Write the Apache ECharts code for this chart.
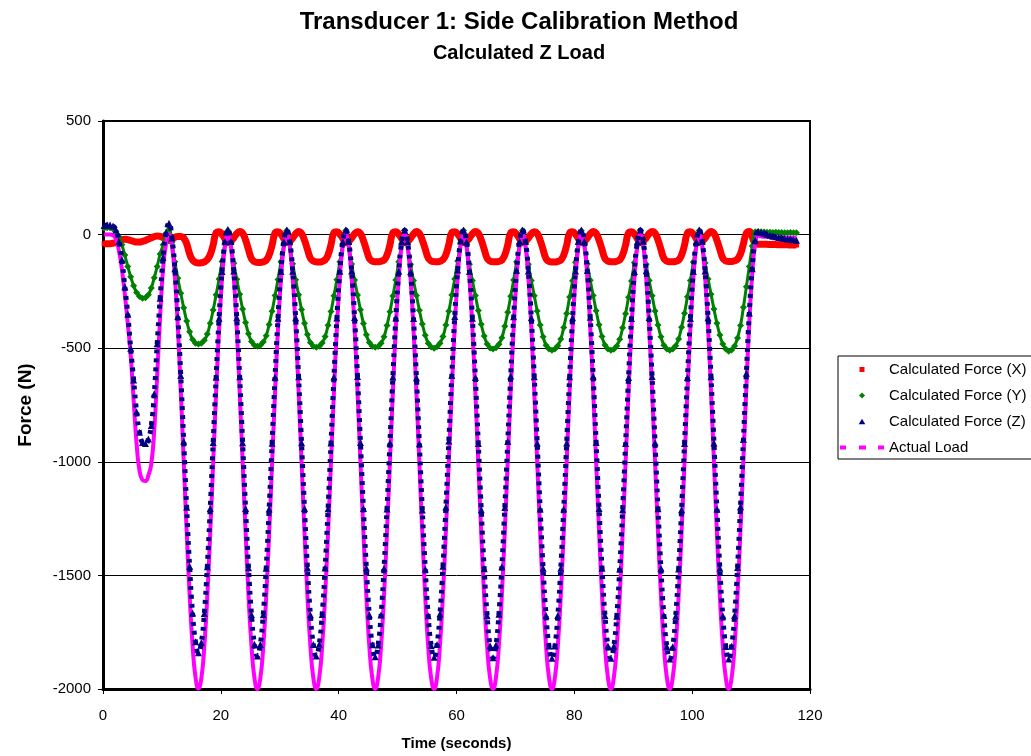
<!DOCTYPE html>
<html><head><meta charset="utf-8">
<script src="https://cdn.jsdelivr.net/npm/echarts@6/dist/echarts.min.js"></script>
<style>html,body{margin:0;padding:0;background:#fff}#c{width:1031px;height:756px}</style>
</head><body><div id="c"></div>
<script>
// sample times (s)
const time = [
0.2,0.7,1.2,1.7,2.2,2.7,3.2,3.7,4.2,4.7,5.2,5.7,6.2,6.7,7.2,7.7,8.2,8.7,9.2,9.7,10.2,10.7,
11.2,11.7,12.2,12.7,13.2,13.7,14.2,14.7,15.2,15.7,16.2,16.7,17.2,17.7,18.2,18.7,19.2,19.7,20.2,20.7,
21.2,21.7,22.2,22.7,23.2,23.7,24.2,24.7,25.2,25.7,26.2,26.7,27.2,27.7,28.2,28.7,29.2,29.7,30.2,30.7,
31.2,31.7,32.2,32.7,33.2,33.7,34.2,34.7,35.2,35.7,36.2,36.7,37.2,37.7,38.2,38.7,39.2,39.7,40.2,40.7,
41.2,41.7,42.2,42.7,43.2,43.7,44.2,44.7,45.2,45.7,46.2,46.7,47.2,47.7,48.2,48.7,49.2,49.7,50.2,50.7,
51.2,51.7,52.2,52.7,53.2,53.7,54.2,54.7,55.2,55.7,56.2,56.7,57.2,57.7,58.2,58.7,59.2,59.7,60.2,60.7,
61.2,61.7,62.2,62.7,63.2,63.7,64.2,64.7,65.2,65.7,66.2,66.7,67.2,67.7,68.2,68.7,69.2,69.7,70.2,70.7,
71.2,71.7,72.2,72.7,73.2,73.7,74.2,74.7,75.2,75.7,76.2,76.7,77.2,77.7,78.2,78.7,79.2,79.7,80.2,80.7,
81.2,81.7,82.2,82.7,83.2,83.7,84.2,84.7,85.2,85.7,86.2,86.7,87.2,87.7,88.2,88.7,89.2,89.7,90.2,90.7,
91.2,91.7,92.2,92.7,93.2,93.7,94.2,94.7,95.2,95.7,96.2,96.7,97.2,97.7,98.2,98.7,99.2,99.7,100.2,100.7,
101.2,101.7,102.2,102.7,103.2,103.7,104.2,104.7,105.2,105.7,106.2,106.7,107.2,107.7,108.2,108.7,109.2,109.7,110.2,110.7,
111.2,111.7,112.2,112.7,113.2,113.7,114.2,114.7,115.2,115.7,116.2,116.7,117.2,117.7
];
// Calculated Force (X) [N]
const forceX = [
-40,-40,-40,-38,-35,-28,-22,-20,-22,-26,-30,-33,-33,-30,-26,-20,-14,-9,-6,-8,-14,-22,
-26,-20,-12,-8,-8,-15,-40,-85,-112,-122,-125,-124,-120,-110,-88,-45,8,13,2,-18,
-35,-28,-14,4,14,6,-24,-66,-106,-119,-123,-123,-120,-113,-90,-46,7,13,3,-18,
-34,-29,-15,3,14,5,-25,-65,-104,-116,-120,-121,-118,-111,-89,-44,8,12,2,-17,
-36,-30,-15,3,13,5,-26,-66,-105,-117,-120,-120,-117,-112,-90,-45,8,13,2,-18,
-35,-30,-16,2,14,5,-25,-64,-103,-116,-119,-120,-117,-110,-88,-43,9,13,3,-17,
-35,-29,-15,3,14,6,-24,-64,-104,-117,-120,-120,-118,-112,-90,-45,8,12,2,-18,
-36,-30,-15,3,13,5,-25,-66,-106,-118,-121,-121,-118,-112,-90,-46,7,12,2,-18,
-35,-30,-15,3,14,5,-25,-65,-105,-117,-120,-120,-117,-111,-89,-45,8,13,2,-18,
-35,-29,-14,4,14,6,-24,-65,-105,-117,-120,-120,-118,-112,-90,-46,7,12,2,-18,
-35,-30,-15,3,14,5,-25,-65,-104,-116,-118,-118,-115,-108,-85,-40,6,14,-10,-40,
-42,-42,-43,-43,-44,-44,-44,-45,-45,-45,-45,-46,-46,-46
];
// Calculated Force (Y) [N]
const forceY = [
28,30,30,25,15,-10,-45,-90,-140,-185,-225,-255,-272,-280,-278,-265,-235,-190,-140,-85,-45,5,
22,-35,-120,-192,-258,-322,-380,-428,-462,-478,-482,-478,-465,-438,-390,-332,-265,-195,-118,-38,
18,-38,-126,-197,-263,-328,-387,-436,-471,-487,-491,-487,-473,-445,-396,-337,-268,-198,-120,-40,
18,-40,-128,-199,-265,-330,-390,-440,-475,-491,-496,-491,-477,-449,-399,-339,-269,-199,-120,-40,
18,-40,-129,-200,-266,-331,-391,-441,-475,-491,-496,-492,-478,-450,-400,-340,-270,-200,-120,-40,
18,-41,-131,-202,-268,-333,-393,-443,-478,-495,-500,-494,-478,-449,-398,-337,-266,-195,-116,-37,
18,-41,-131,-202,-268,-334,-395,-446,-482,-499,-504,-498,-483,-454,-403,-342,-271,-200,-120,-40,
18,-40,-130,-202,-269,-336,-398,-450,-487,-504,-509,-504,-489,-460,-409,-347,-275,-203,-122,-41,
17,-39,-129,-201,-268,-335,-397,-449,-486,-503,-509,-505,-490,-461,-410,-348,-276,-204,-123,-42,
17,-40,-130,-202,-269,-336,-398,-450,-487,-504,-509,-504,-489,-459,-408,-346,-274,-202,-121,-40,
18,-38,-125,-195,-262,-328,-390,-442,-482,-503,-513,-508,-490,-455,-400,-320,-230,-140,-50,12,
14,12,11,10,10,9,10,9,9,8,8,9,8,8
];
// Calculated Force (Z) [N]
const forceZ = [
40,42,42,38,20,-30,-110,-230,-350,-500,-640,-780,-870,-915,-920,-900,-840,-700,-480,-280,-100,10,
50,-15,-150,-360,-620,-910,-1200,-1460,-1665,-1792,-1840,-1795,-1668,-1462,-1205,-915,-628,-368,-162,-32,
22,-30,-160,-366,-626,-916,-1206,-1466,-1672,-1803,-1855,-1804,-1673,-1468,-1208,-918,-628,-368,-162,-32,
20,-31,-161,-366,-626,-916,-1206,-1467,-1673,-1804,-1855,-1803,-1672,-1467,-1207,-917,-627,-367,-161,-31,
20,-30,-160,-365,-625,-915,-1206,-1467,-1673,-1805,-1858,-1806,-1674,-1468,-1208,-917,-627,-367,-161,-31,
19,-32,-163,-369,-630,-921,-1212,-1472,-1678,-1809,-1860,-1804,-1669,-1460,-1199,-909,-620,-360,-156,-28,
19,-32,-162,-368,-629,-920,-1211,-1471,-1678,-1810,-1862,-1806,-1671,-1462,-1201,-911,-622,-362,-157,-29,
20,-30,-160,-366,-626,-917,-1208,-1469,-1677,-1811,-1865,-1811,-1677,-1469,-1208,-917,-626,-366,-160,-30,
20,-29,-158,-364,-624,-915,-1206,-1468,-1676,-1811,-1865,-1812,-1680,-1472,-1211,-920,-629,-369,-162,-31,
20,-29,-159,-365,-625,-916,-1207,-1469,-1677,-1813,-1868,-1814,-1680,-1472,-1211,-920,-629,-369,-162,-31,
20,-30,-160,-366,-626,-917,-1208,-1469,-1678,-1813,-1868,-1812,-1676,-1465,-1198,-902,-610,-345,-150,-25,
12,9,6,2,-3,-7,-10,-13,-15,-17,-19,-21,-23,-25
];
// Actual Load [N]
const actualLoad = [
0,0,0,-3,-20,-70,-150,-260,-390,-530,-730,-920,-1040,-1080,-1085,-1060,-1010,-860,-620,-360,-150,-40,
0,-48,-186,-406,-688,-996,-1306,-1586,-1806,-1948,-1998,-1952,-1812,-1594,-1314,-1004,-694,-414,-194,-52,
0,-50,-190,-410,-692,-1000,-1310,-1590,-1810,-1950,-2000,-1954,-1814,-1596,-1316,-1006,-696,-416,-196,-54,
0,-51,-191,-411,-691,-1001,-1311,-1591,-1811,-1951,-2000,-1951,-1811,-1591,-1311,-1001,-691,-411,-191,-51,
0,-50,-190,-410,-690,-1000,-1310,-1590,-1810,-1950,-2000,-1950,-1810,-1590,-1310,-1000,-690,-410,-190,-50,
0,-52,-194,-415,-696,-1006,-1316,-1596,-1814,-1953,-2000,-1948,-1806,-1585,-1304,-994,-684,-404,-186,-47,
0,-52,-193,-414,-695,-1005,-1315,-1595,-1813,-1952,-2000,-1949,-1807,-1586,-1305,-995,-686,-406,-187,-48,
0,-50,-190,-410,-690,-1000,-1310,-1590,-1810,-1950,-2000,-1950,-1810,-1590,-1310,-1000,-690,-410,-190,-50,
0,-49,-188,-408,-688,-998,-1308,-1588,-1808,-1949,-2000,-1951,-1812,-1592,-1312,-1002,-692,-412,-192,-51,
0,-49,-189,-409,-689,-999,-1309,-1589,-1809,-1950,-2000,-1951,-1811,-1591,-1311,-1001,-691,-411,-191,-51,
0,-50,-190,-410,-690,-1000,-1310,-1590,-1810,-1950,-2000,-1950,-1808,-1585,-1300,-985,-670,-385,-170,-40,
-4,-8,-10,-10,-11,-11,-12,-12,-12,-13,-13,-13,-14,-14
];
const seriesNames = ['Calculated Force (X)','Calculated Force (Y)','Calculated Force (Z)','Actual Load'];
const xTicks = {min:0, max:120, step:20};
const yTicks = {min:-2000, max:500, step:500};

const pair = arr => time.map((t,i)=>[t, arr[i]]);
const chart = echarts.init(document.getElementById('c'), null, {renderer:'canvas'});
const FONT = '"Liberation Sans", Arial, Helvetica, sans-serif';
// legend icons: a small marker centred in a 44x6 box (corner points fix the box)
const BOX = 'M0,0L0,0M44,6L44,6';
const iconSquare = 'path://' + BOX + 'M19.5,0.5L24.5,0.5L24.5,5.5L19.5,5.5Z';
const iconDiamond = 'path://' + BOX + 'M22,0L25,3L22,6L19,3Z';
const iconTriangle = 'path://' + BOX + 'M22,0.3L25.3,5.7L18.7,5.7Z';
const iconDash = 'path://' + BOX + 'M0,1L6,1L6,5L0,5ZM19,1L26,1L26,5L19,5ZM38,1L44,1L44,5L38,5Z';
chart.setOption({
  animation:false,
  backgroundColor:'#ffffff',
  textStyle:{fontFamily:FONT, color:'#000'},
  graphic:[
    {type:'text', x:519, y:22, z:10, style:{text:'Transducer 1: Side Calibration Method', font:'bold 24px '+FONT, fill:'#000', align:'center', verticalAlign:'middle', textAlign:'center', textVerticalAlign:'middle'}},
    {type:'text', x:519, y:53, z:10, style:{text:'Calculated Z Load', font:'bold 20px '+FONT, fill:'#000', align:'center', verticalAlign:'middle', textAlign:'center', textVerticalAlign:'middle'}}
  ],
  grid:{left:103, right:221, top:121, bottom:65, show:true, borderColor:'#000', borderWidth:2, backgroundColor:'rgba(0,0,0,0)'},
  legend:{
    orient:'vertical', left:838, top:356, padding:[6,10,4,2],
    itemWidth:44, itemHeight:6, itemGap:11,
    borderColor:'#000', borderWidth:1,
    itemStyle:{borderWidth:0},
    textStyle:{fontSize:15, color:'#000', fontFamily:FONT},
    data:[
      {name:seriesNames[0], icon:iconSquare},
      {name:seriesNames[1], icon:iconDiamond},
      {name:seriesNames[2], icon:iconTriangle},
      {name:seriesNames[3], icon:iconDash}
    ]
  },
  xAxis:{
    type:'value', min:xTicks.min, max:xTicks.max, interval:xTicks.step,
    name:'Time (seconds)', nameLocation:'middle', nameGap:47,
    nameTextStyle:{fontWeight:'bold', fontSize:15, color:'#000', fontFamily:FONT},
    axisLine:{show:true, onZero:false, lineStyle:{color:'#000', width:3}},
    axisTick:{show:true, length:5, lineStyle:{color:'#000', width:1}},
    axisLabel:{fontSize:15, color:'#000', margin:19, fontFamily:FONT, formatter:v=>String(v)},
    splitLine:{show:false}
  },
  yAxis:{
    type:'value', min:yTicks.min, max:yTicks.max, interval:yTicks.step,
    name:'Force (N)', nameLocation:'middle', nameGap:68, nameRotate:90,
    nameTextStyle:{fontWeight:'bold', fontSize:19, color:'#000', fontFamily:FONT},
    axisLine:{show:true, onZero:false, lineStyle:{color:'#000', width:3}},
    axisTick:{show:true, length:5, lineStyle:{color:'#000', width:1}},
    axisLabel:{fontSize:15, color:'#000', margin:12, fontFamily:FONT, formatter:v=>String(v)},
    splitLine:{show:true, lineStyle:{color:'#000', width:1}}
  },
  series:[
    {name:seriesNames[0], type:'line', data:pair(forceX), smooth:true, z:2,
     symbol:'rect', symbolSize:5, showSymbol:true,
     itemStyle:{color:'#ff0000'}, lineStyle:{color:'#ff0000', width:7}},
    {name:seriesNames[1], type:'line', data:pair(forceY), smooth:true, z:3,
     symbol:'diamond', symbolSize:7, showSymbol:true,
     itemStyle:{color:'#008000'}, lineStyle:{color:'#008000', width:3}},
    {name:seriesNames[2], type:'line', data:pair(forceZ), smooth:true, z:5,
     symbol:'triangle', symbolSize:7, showSymbol:true,
     itemStyle:{color:'#000080'}, lineStyle:{color:'#000080', width:5, type:[4,5]}},
    {name:seriesNames[3], type:'line', data:pair(actualLoad), smooth:true, z:4,
     symbol:'none', showSymbol:false,
     itemStyle:{color:'#ff00ff'}, lineStyle:{color:'#ff00ff', width:4}}
  ]
});
</script>
</body></html>
